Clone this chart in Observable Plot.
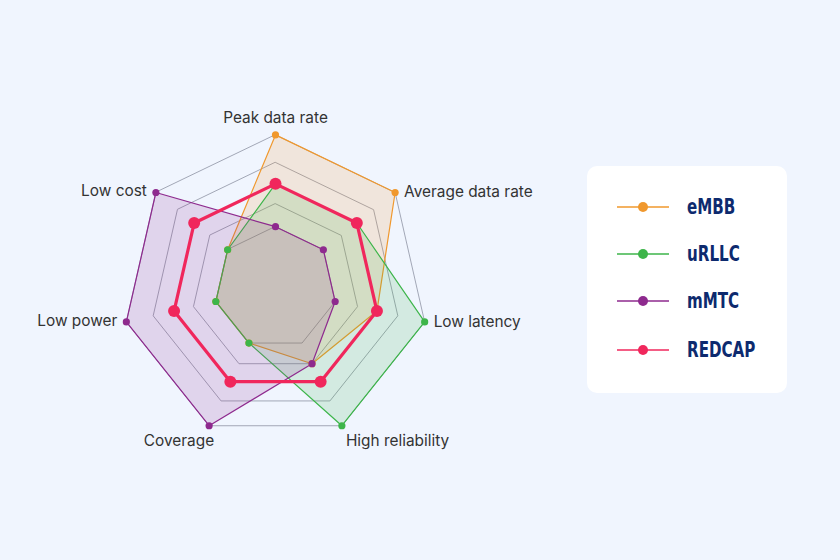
<!DOCTYPE html>
<html>
<head>
<meta charset="utf-8">
<script src="https://cdn.jsdelivr.net/npm/d3@7"></script>
<script src="https://cdn.jsdelivr.net/npm/@observablehq/plot@0.6"></script>
<style>
  html, body { margin: 0; padding: 0; background: #f0f5fe; }
  #wrap { position: relative; width: 840px; height: 560px; overflow: hidden; }
  #chart svg { display: block; overflow: visible; }
  #legend {
    position: absolute; left: 587px; top: 166px; width: 200px; height: 227px;
    background: #ffffff; border-radius: 10px;
  }
  .item { position: absolute; left: 30px; height: 24px; display: flex; align-items: center; }
  .item span {
    display: inline-block; margin-left: 18px; transform: scaleX(0.8); transform-origin: left center;
    font-family: "DejaVu Sans Condensed", "Roboto", sans-serif;
    font-weight: bold; font-size: 21px; color: #0d2a6e;
  }
</style>
</head>
<body>
<div id="wrap">
  <div id="chart"></div>
  <div id="legend"></div>
</div>
<script>
const categories = ["Peak data rate", "Average data rate", "Low latency", "High reliability", "Coverage", "Low power", "Low cost"];
const seriesNames = ["eMBB", "uRLLC", "mMTC", "REDCAP"];
const eMBB   = [100, 100, 68, 55, 40, 40, 40];
const uRLLC  = [68, 68, 100, 100, 40, 40, 40];
const mMTC   = [40, 40, 40, 55, 100, 100, 100];
const REDCAP = [68, 68, 68, 68, 68, 68, 68];
const gridLevels = [40, 55, 82, 100];
const colors = ["#f0982d", "#3db54a", "#8e2a8e", "#f0275c"];

const seriesValues = [eMBB, uRLLC, mMTC, REDCAP];
const n = categories.length;
const ang = i => i * 2 * Math.PI / n;
const pt = (v, i) => ({x: v * Math.sin(ang(i)), y: v * Math.cos(ang(i))});

const rows = [];
seriesNames.forEach((s, k) => seriesValues[k].forEach((v, i) => rows.push({series: s, k, cat: categories[i], i, v, ...pt(v, i)})));
const grid = [];
gridLevels.forEach(l => categories.forEach((c, i) => grid.push({level: l, i, ...pt(l, i)})));
const labels = categories.map((c, i) => ({cat: c, i, ...pt(100, i)}));

// scale: 100 units = 153 px, center at (275, 287.4)
const k = 1.53, cx = 275, cy = 287.4, W = 840, H = 560;

const marks = [
  Plot.line(grid, {x: "x", y: "y", z: "level", curve: "linear-closed", stroke: "#a2a7b6", strokeWidth: 1})
];
seriesNames.forEach((s, j) => {
  const d = rows.filter(r => r.series === s);
  const red = s === "REDCAP";
  marks.push(Plot.line(d, {x: "x", y: "y", curve: "linear-closed", stroke: colors[j], strokeWidth: red ? 3.2 : 1.2,
    fill: red ? "none" : colors[j], fillOpacity: red ? 0 : 0.16}));
});
seriesNames.forEach((s, j) => {
  const d = rows.filter(r => r.series === s);
  const red = s === "REDCAP";
  marks.push(Plot.dot(d, {x: "x", y: "y", r: red ? 6 : 3.6, fill: colors[j], stroke: "none"}));
});
const txt = {fontSize: 15.4, fill: "#333333", fontFamily: "Inter"};
marks.push(
  Plot.text(labels.filter(d => d.i === 0), {x: "x", y: "y", text: "cat", textAnchor: "middle", dy: -17, ...txt}),
  Plot.text(labels.filter(d => d.i === 1 || d.i === 2), {x: "x", y: "y", text: "cat", textAnchor: "start", dx: 9, ...txt}),
  Plot.text(labels.filter(d => d.i === 3), {x: "x", y: "y", text: "cat", textAnchor: "start", dx: 4, dy: 15, ...txt}),
  Plot.text(labels.filter(d => d.i === 4), {x: "x", y: "y", text: "cat", textAnchor: "end", dx: 5, dy: 15, ...txt}),
  Plot.text(labels.filter(d => d.i === 5 || d.i === 6), {x: "x", y: "y", text: "cat", textAnchor: "end", dx: -9, dy: -1, ...txt})
);

const chart = Plot.plot({
  width: W, height: H, margin: 0,
  x: {domain: [-cx / k, (W - cx) / k], range: [0, W], axis: null},
  y: {domain: [(cy - H) / k, cy / k], range: [H, 0], axis: null},
  style: {background: "transparent", fontFamily: "Inter"},
  marks
});
document.getElementById("chart").appendChild(chart);

const legend = document.getElementById("legend");
const tops = [29, 76, 123, 172];
seriesNames.forEach((s, j) => {
  const it = document.createElement("div");
  it.className = "item";
  it.style.top = tops[j] + "px";
  it.innerHTML = `<svg width="52" height="14"><line x1="0" y1="7" x2="52" y2="7" stroke="${colors[j]}" stroke-width="1.6"/><circle cx="26" cy="7" r="5" fill="${colors[j]}"/></svg><span>${s}</span>`;
  legend.appendChild(it);
});
</script>
</body>
</html>
